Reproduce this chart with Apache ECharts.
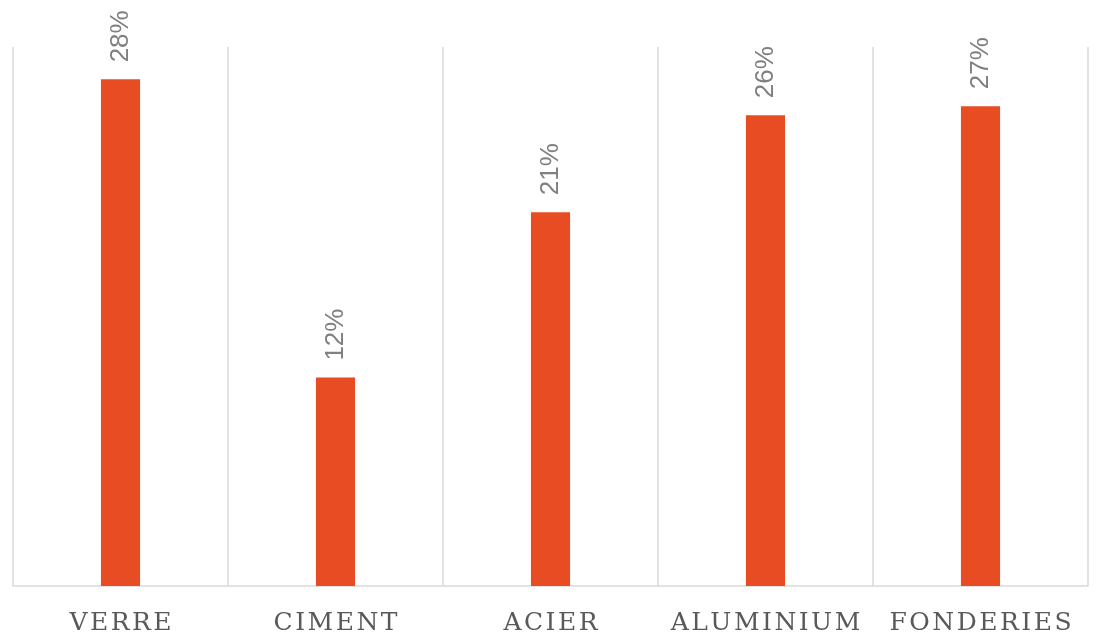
<!DOCTYPE html>
<html>
<head>
<meta charset="utf-8">
<script src="https://cdn.jsdelivr.net/npm/echarts@6/dist/echarts.min.js"></script>
<style>html,body{margin:0;padding:0;background:#fff}#c{width:1096px;height:641px}</style>
</head>
<body>
<div id="c"></div>
<script>
const categories = ['VERRE', 'CIMENT', 'ACIER', 'ALUMINIUM', 'FONDERIES'];
const values = [28.2, 11.6, 20.8, 26.2, 26.7];

function spaced(s) { return s.split('').join('\u200A'); }

const chart = echarts.init(document.getElementById('c'));
chart.setOption({
  animation: false,
  grid: { left: 13, right: 8, top: 47, bottom: 55, containLabel: false },
  xAxis: {
    type: 'category',
    data: categories,
    axisLine: { show: true, lineStyle: { color: '#d9d9d9', width: 1.5 } },
    axisTick: { show: false },
    splitLine: { show: true, interval: 0, lineStyle: { color: '#d9d9d9', width: 1.5 } },
    axisLabel: {
      interval: 0,
      hideOverlap: false,
      margin: 25,
      color: '#595959',
      fontFamily: 'DejaVu Serif',
      fontSize: 25,
      formatter: v => spaced(v)
    }
  },
  yAxis: {
    type: 'value',
    min: 0, max: 30,
    show: false,
    splitLine: { show: false }
  },
  series: [{
    type: 'bar',
    data: values,
    barWidth: '18.2%',
    itemStyle: { color: '#e84c22' },
    label: {
      show: true,
      position: 'top',
      rotate: 90,
      align: 'left',
      verticalAlign: 'middle',
      distance: 17,
      color: '#808080',
      fontFamily: 'Liberation Sans',
      fontSize: 26,
      formatter: p => Math.round(p.value) + '%'
    }
  }]
});
</script>
</body>
</html>
